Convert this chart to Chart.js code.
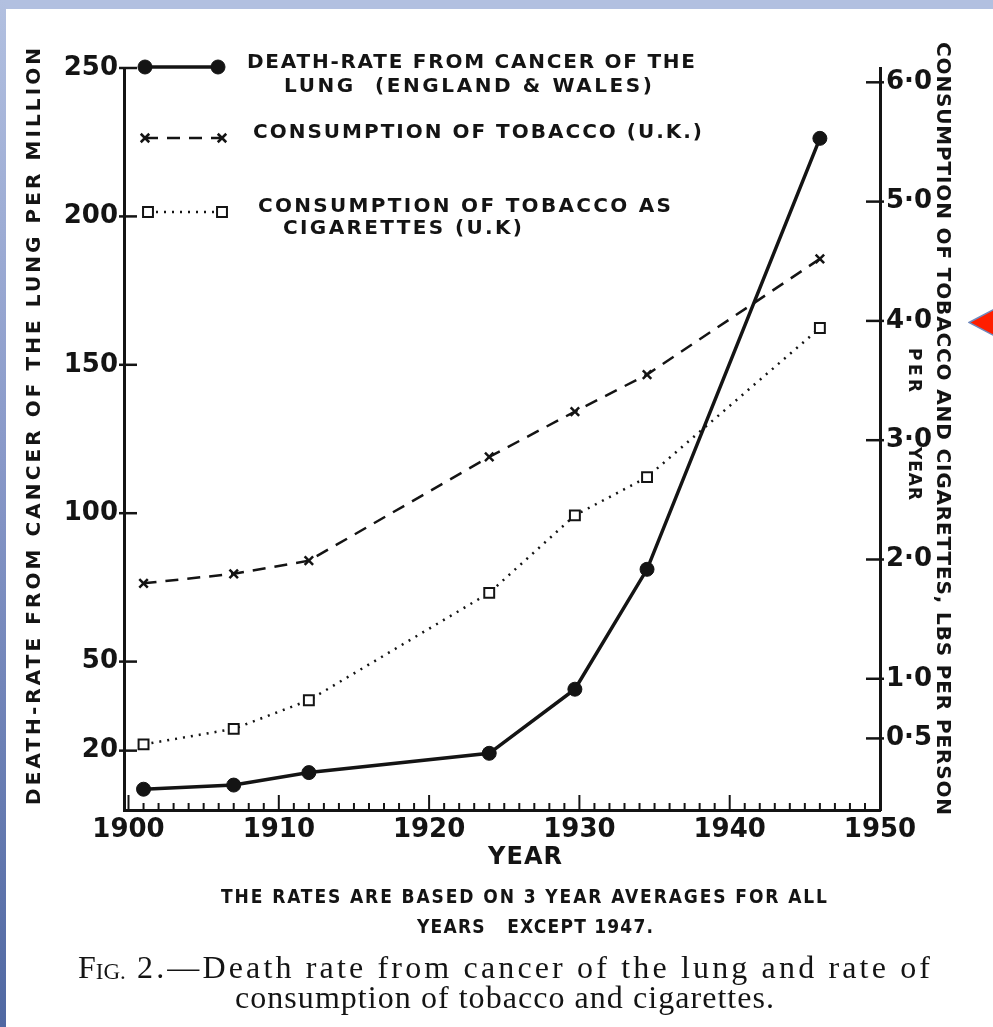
<!DOCTYPE html>
<html>
<head>
<meta charset="utf-8">
<title>Lung cancer death rate and tobacco consumption</title>
<script src="https://cdn.jsdelivr.net/npm/chart.js@4.4.1/dist/chart.umd.min.js"></script>
<style>
  html, body { margin: 0; padding: 0; background: #fff; }
  body { width: 993px; height: 1027px; position: relative; overflow: hidden; }
  canvas { position: absolute; left: 0; top: 0; }
  #frameTop { position: absolute; left: 0; top: 0; width: 993px; height: 9px; background: #b2c0e0; z-index: 2; }
  #frameLeft { position: absolute; left: 0; top: 0; width: 6px; height: 1027px; z-index: 2;
    background: linear-gradient(#b2c0e0, #8898c8 45%, #5068a2); }
  #arrow { position: absolute; left: 968px; top: 300px; z-index: 2; }
</style>
</head>
<body>
<div id="frameTop"></div>
<div id="frameLeft"></div>
<svg id="arrow" width="40" height="45"><polygon points="1,22.5 40,2 40,43" fill="#ff1e00" stroke="#7089bd" stroke-width="1.5"/></svg>
<canvas id="chart" width="993" height="1027"></canvas>

<script>
// years of each plotted point (3 year averages, last one 1947)
const years = [1901, 1907, 1912, 1924, 1929.7, 1934.5, 1946];
// death-rate from cancer of the lung, per million (England & Wales)
const lungDeathRate = [7, 8.4, 12.6, 19.1, 40.7, 81.1, 226.3];
// consumption of tobacco, lbs per person per year (U.K.)
const tobaccoLbs = [1.80, 1.88, 1.99, 2.86, 3.24, 3.55, 4.52];
// consumption of tobacco as cigarettes, lbs per person per year (U.K.)
const cigaretteLbs = [0.45, 0.58, 0.82, 1.72, 2.37, 2.69, 3.94];

const yearTicks = [1900, 1910, 1920, 1930, 1940, 1950];
const rateTicks = [20, 50, 100, 150, 200, 250];
const lbsTicks = [0.5, 1, 2, 3, 4, 5, 6];

const INK = '#141414';
const TICK_FONT = { family: 'DejaVu Sans', size: 26, weight: 'bold' };

const pts = vals => years.map((x, i) => ({ x: x, y: vals[i] }));

const lungStyle = {
  borderColor: INK, backgroundColor: INK, borderWidth: 3.5,
  pointStyle: 'circle', pointRadius: 7, pointBackgroundColor: INK, pointBorderWidth: 1
};
const tobaccoStyle = {
  borderColor: INK, borderWidth: 2.5, borderDash: [13, 9],
  pointStyle: 'crossRot', pointRadius: 6, pointBorderWidth: 2.5, pointBorderColor: INK
};
const cigStyle = {
  borderColor: INK, borderWidth: 2.5, borderDash: [2, 6],
  pointStyle: 'rect', pointRadius: 7, pointBorderWidth: 2,
  pointBorderColor: INK, pointBackgroundColor: '#fff'
};

// spread a line of text evenly between x0 and x1
function fitText(ctx, text, x0, x1, y) {
  ctx.letterSpacing = '0px';
  const w = ctx.measureText(text).width;
  const gap = (x1 - x0 - w) / Math.max(1, text.length - 1);
  ctx.letterSpacing = gap + 'px';
  ctx.textAlign = 'left';
  ctx.textBaseline = 'middle';
  ctx.fillText(text, x0, y);
  ctx.letterSpacing = '0px';
}

// text running up (-90deg) or down (+90deg) the page
function fitTextRotated(ctx, text, cx, yStart, yEnd) {
  ctx.save();
  ctx.translate(cx, yStart);
  ctx.rotate(yEnd < yStart ? -Math.PI / 2 : Math.PI / 2);
  fitText(ctx, text, 0, Math.abs(yEnd - yStart), 0);
  ctx.restore();
}

function seg(ctx, x0, y0, x1, y1) {
  ctx.beginPath(); ctx.moveTo(x0, y0); ctx.lineTo(x1, y1); ctx.stroke();
}

function legendSample(ctx, style, x0, x1, y) {
  ctx.save();
  ctx.strokeStyle = INK;
  ctx.lineWidth = style.borderWidth;
  ctx.setLineDash(style.borderDash || []);
  seg(ctx, x0, y, x1, y);
  ctx.setLineDash([]);
  ctx.lineWidth = style.pointBorderWidth;
  ctx.fillStyle = style.pointBackgroundColor || INK;
  ctx.strokeStyle = style.pointBorderColor || INK;
  [x0, x1].forEach(px => Chart.helpers.drawPoint(ctx, {
    pointStyle: style.pointStyle, radius: style.pointRadius, rotation: 0,
    borderWidth: style.pointBorderWidth
  }, px, y));
  ctx.restore();
}

const inkPlugin = {
  id: 'ink',
  afterDraw(chart) {
    const { ctx, chartArea: a, scales } = chart;
    const x = scales.x, yl = scales.y, yr = scales.y1;
    ctx.save();
    ctx.strokeStyle = INK;
    ctx.fillStyle = INK;

    // year ticks standing up from the base line
    ctx.lineWidth = 2;
    for (let yy = 1900; yy <= 1950; yy++) {
      const px = x.getPixelForValue(yy);
      seg(ctx, px, a.bottom + 1, px, a.bottom - (yy % 10 === 0 ? 15 : 7));
    }
    ctx.lineWidth = 2.5;
    rateTicks.forEach(v => {
      const py = yl.getPixelForValue(v);
      seg(ctx, a.left - 5, py, a.left + 13, py);
    });
    lbsTicks.forEach(v => {
      const py = yr.getPixelForValue(v);
      seg(ctx, a.right - 14, py, a.right + 4, py);
    });

    // axis titles
    ctx.font = 'bold 20px "DejaVu Sans"';
    fitTextRotated(ctx, 'DEATH-RATE FROM CANCER OF THE LUNG PER MILLION', 35, 805, 48);
    fitTextRotated(ctx, 'CONSUMPTION OF TOBACCO AND CIGARETTES, LBS PER PERSON', 942, 42, 815);
    ctx.font = 'bold 17px "DejaVu Sans"';
    fitTextRotated(ctx, 'PER', 913, 348, 392);
    fitTextRotated(ctx, 'YEAR', 913, 447, 500);
    ctx.font = 'bold 24px "DejaVu Sans"';
    fitText(ctx, 'YEAR', 488, 562, 858);

    // legend
    legendSample(ctx, lungStyle, 145, 218, 67);
    legendSample(ctx, tobaccoStyle, 145, 222, 138);
    legendSample(ctx, cigStyle, 148, 222, 212);
    ctx.font = 'bold 20px "DejaVu Sans"';
    fitText(ctx, 'DEATH-RATE FROM CANCER OF THE', 247, 695, 63);
    fitText(ctx, 'LUNG  (ENGLAND & WALES)', 284, 652, 87);
    fitText(ctx, 'CONSUMPTION OF TOBACCO (U.K.)', 253, 702, 133);
    fitText(ctx, 'CONSUMPTION OF TOBACCO AS', 258, 671, 207);
    fitText(ctx, 'CIGARETTES (U.K)', 283, 522, 229);

    // footnote
    ctx.font = 'bold 19px "DejaVu Sans Condensed"';
    fitText(ctx, 'THE RATES ARE BASED ON 3 YEAR AVERAGES FOR ALL', 221, 827, 898);
    fitText(ctx, 'YEARS   EXCEPT 1947.', 417, 653, 928);

    // caption
    ctx.textBaseline = 'middle';
    ctx.textAlign = 'left';
    ctx.font = '32px "Liberation Serif"';
    ctx.fillText('F', 78, 970);
    let cx = 78 + ctx.measureText('F').width;
    ctx.font = '23px "Liberation Serif"';
    ctx.fillText('IG.', cx, 973);
    cx += ctx.measureText('IG.').width;
    ctx.font = '32px "Liberation Serif"';
    fitText(ctx, ' 2.\u2014Death rate from cancer of the lung and rate of', cx, 930, 970);
    fitText(ctx, 'consumption of tobacco and cigarettes.', 235, 774, 1000);
    ctx.restore();
  }
};

new Chart(document.getElementById('chart'), {
  type: 'line',
  data: {
    datasets: [
      Object.assign({ label: 'Death-rate from cancer of the lung', data: pts(lungDeathRate), yAxisID: 'y' }, lungStyle),
      Object.assign({ label: 'Consumption of tobacco', data: pts(tobaccoLbs), yAxisID: 'y1' }, tobaccoStyle),
      Object.assign({ label: 'Consumption of tobacco as cigarettes', data: pts(cigaretteLbs), yAxisID: 'y1' }, cigStyle)
    ]
  },
  options: {
    responsive: false,
    animation: false,
    events: [],
    tension: 0,
    layout: { padding: { top: 68, left: 0, right: 0, bottom: 0 } },
    plugins: { legend: { display: false }, tooltip: { enabled: false } },
    scales: {
      x: {
        type: 'linear', min: 1899.7, max: 1950,
        afterBuildTicks: s => { s.ticks = yearTicks.map(v => ({ value: v })); },
        afterFit: s => { s.height = 1027 - 810; },
        grid: { display: false, drawTicks: false },
        border: { display: true, color: INK, width: 3 },
        ticks: { color: INK, font: TICK_FONT, padding: 5, maxRotation: 0, callback: v => String(v) }
      },
      y: {
        position: 'left', min: 0, max: 250,
        afterBuildTicks: s => { s.ticks = rateTicks.map(v => ({ value: v })); },
        afterFit: s => { s.width = 124; },
        grid: { display: false, drawTicks: false },
        border: { display: true, color: INK, width: 3 },
        ticks: { color: INK, font: TICK_FONT, padding: 6 }
      },
      y1: {
        position: 'right', min: -0.1, max: 6.12,
        afterBuildTicks: s => { s.ticks = lbsTicks.map(v => ({ value: v })); },
        afterFit: s => { s.width = 993 - 880; },
        grid: { display: false, drawTicks: false },
        border: { display: true, color: INK, width: 3 },
        ticks: { color: INK, font: TICK_FONT, padding: 6, callback: v => v.toFixed(1).replace('.', '\u00b7') }
      }
    }
  },
  plugins: [inkPlugin]
});
</script>
</body>
</html>
